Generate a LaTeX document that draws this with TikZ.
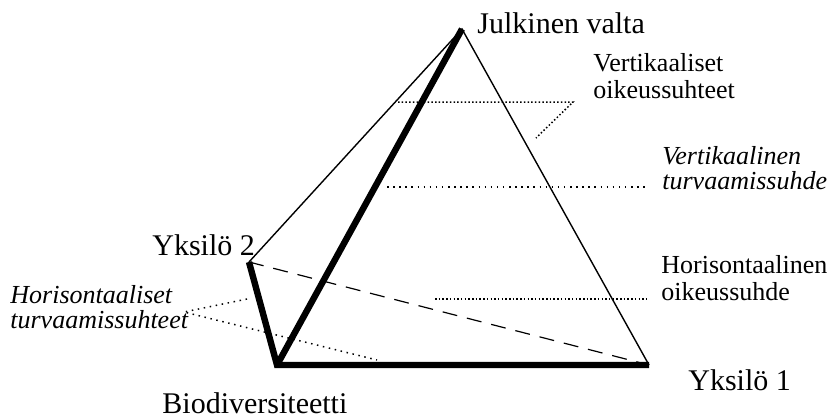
\documentclass[tikz,border=0pt]{standalone}
\usepackage{fontspec}
\setmainfont{Liberation Serif}
\begin{document}
\begin{tikzpicture}[x=0.5pt,y=-0.5pt,
  lbl/.style={inner sep=0pt, anchor=base west, font=\fontsize{15}{15}\selectfont},
  ann/.style={inner sep=0pt, anchor=base west, align=left, font=\fontsize{13}{13.5}\selectfont},
  anni/.style={ann, font=\fontsize{13}{12.5}\selectfont\itshape},
  edgethin/.style={line width=0.7pt},
  edgethick/.style={line width=3.2pt, line join=miter},
  edgedash/.style={line width=0.6pt, dash pattern=on 7.5pt off 5pt},
  densedots/.style={line width=0.75pt, dash pattern=on 0.75pt off 1.1pt},
  sparsedots/.style={line width=0.75pt, dash pattern=on 0.75pt off 2.3pt}
]
\useasboundingbox (0,0) rectangle (831,419);
% vertices
\coordinate (J) at (462,29);
\coordinate (Y2) at (249,262);
\coordinate (B) at (277,365);
\coordinate (Y1) at (649,365);
% edges
\draw[edgethin] (Y2) -- (J) -- (Y1);
\draw[edgedash] (Y2) -- (Y1);
\draw[edgethick] (J) -- (B);
\draw[edgethick] (Y2) -- (B) -- (Y1);
% labels
\node[lbl] (lJ) at (477,33) {Julkinen valta};
\node[lbl] (lY2) at (152,255) {Yksilö 2};
\node[lbl] (lB) at (162,413) {Biodiversiteetti};
\node[lbl] (lY1) at (688,390) {Yksilö 1};
\node[ann] (vo) at (593,98) {Vertikaaliset\\oikeussuhteet};
\node[anni] (vt) at (662,189) {Vertikaalinen\\turvaamissuhde};
\node[ann] (ho) at (661,300) {Horisontaalinen\\oikeussuhde};
\node[anni] (ht) at (10,328) {Horisontaaliset\\turvaamissuhteet};
% annotation connectors
\coordinate (v1a) at (398,102);
\coordinate (v1b) at (573,102);
\coordinate (v1c) at (536,138);
\coordinate (v2a) at (387,187);
\coordinate (v2b) at (647,187);
\coordinate (h1a) at (435,299);
\coordinate (h1b) at (647,299);
\coordinate (h2o) at (184,312);
\coordinate (h2a) at (247,299);
\coordinate (h2b) at (377,360);
\draw[densedots] (v1a) -- (v1b) -- (v1c);
\draw[sparsedots] (v2a) -- (v2b);
\draw[densedots] (h1a) -- (h1b);
\draw[sparsedots] (h2a) -- (h2o) -- (h2b);
\end{tikzpicture}
\end{document}
